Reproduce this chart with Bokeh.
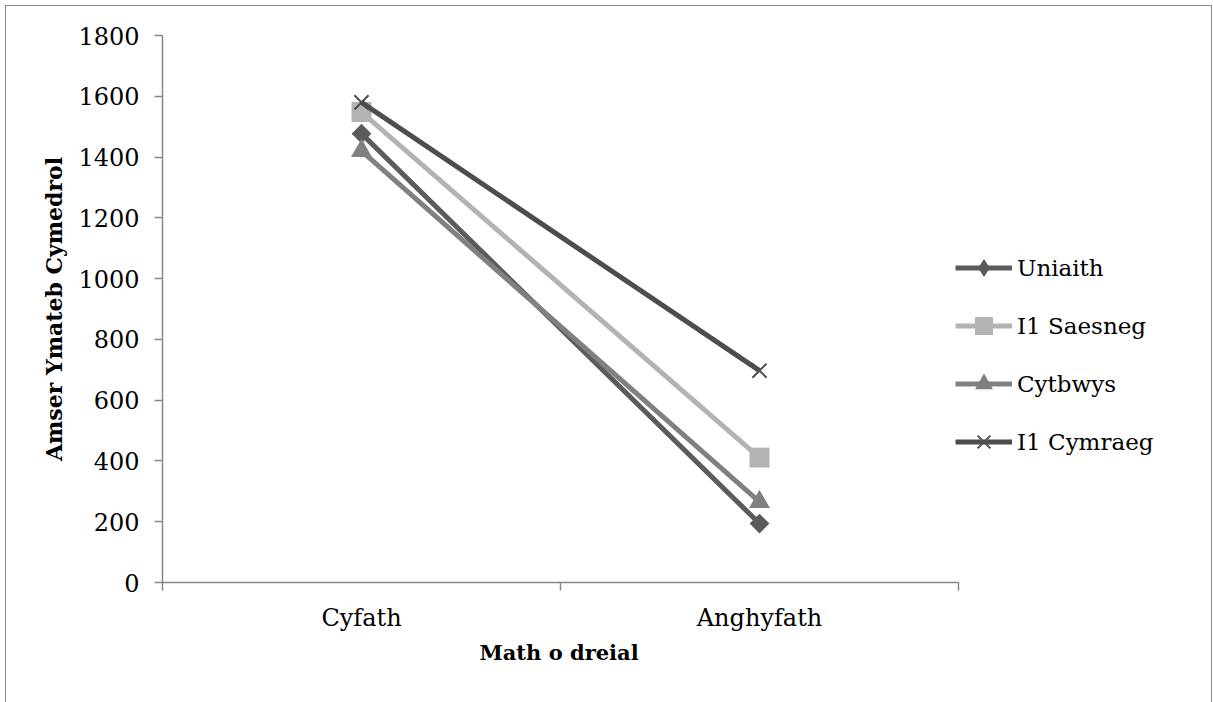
import numpy as np
from bokeh.plotting import figure
from bokeh.models import (Range1d, FixedTicker, Legend, LegendItem, InlineStyleSheet, Title)
from bokeh.embed import file_html
from bokeh.resources import INLINE

categories = ["Cyfath", "Anghyfath"]
series_names = ["Uniaith", "I1 Saesneg", "Cytbwys", "I1 Cymraeg"]
uniaith = [1477, 194]
i1_saesneg = [1548, 411]
cytbwys = [1420, 265]
i1_cymraeg = [1580, 697]
y_ticks = [0, 200, 400, 600, 800, 1000, 1200, 1400, 1600, 1800]

SERIF = "DejaVu Serif"
x_pos = [i + 0.5 for i in range(len(categories))]

# layout (pixels)
W, H = 1213, 702
LEFT, TOP, BOTTOM_PAD, RIGHT_PAD = 162, 35, 120, 8
AXIS_RIGHT = 958   # where the category axis ends
frame_right = W - RIGHT_PAD
n = len(categories)
x_end = n * (frame_right - LEFT) / (AXIS_RIGHT - LEFT)

css = InlineStyleSheet(css="""
:host { position: relative; }
:host::after {
  content: ""; position: absolute; left: 5px; top: 5px; right: 1px; bottom: -20px;
  border: 1.5px solid #8c8c8c; border-bottom: none; pointer-events: none; z-index: 10;
}
""")

p = figure(width=W, height=H, output_backend="svg", toolbar_location=None,
           x_range=Range1d(0, x_end), y_range=Range1d(0, 1800),
           stylesheets=[css])
p.min_border_left = LEFT
p.min_border_right = RIGHT_PAD
p.min_border_top = TOP
p.min_border_bottom = BOTTOM_PAD
p.outline_line_color = None
p.grid.visible = False
p.background_fill_color = "white"
p.border_fill_color = "white"

axis_col = "#888888"
for ax in (p.xaxis[0], p.yaxis[0]):
    ax.axis_line_color = axis_col
    ax.axis_line_width = 1.5
    ax.major_tick_line_color = axis_col
    ax.major_tick_line_width = 1.5
    ax.minor_tick_line_color = axis_col
    ax.minor_tick_line_width = 1.5
    ax.major_label_text_font = SERIF
    ax.major_label_text_font_size = "24px"
    ax.major_label_text_color = "black"
    ax.axis_label_text_font = SERIF
    ax.axis_label_text_font_style = "bold"
    ax.axis_label_text_color = "black"

# y axis
p.yaxis.ticker = FixedTicker(ticks=y_ticks)
p.yaxis.major_tick_out = 8
p.yaxis.major_tick_in = 0
p.yaxis.minor_tick_out = 0
p.yaxis.minor_tick_in = 0
p.yaxis.major_label_standoff = 15
p.yaxis.axis_label = "Amser Ymateb Cymedrol"
p.yaxis.axis_label_text_font_size = "22px"
p.yaxis.axis_label_standoff = 8

# x axis: labels at category centres, ticks at category boundaries
bounds = list(range(n + 1))
p.xaxis.ticker = FixedTicker(ticks=x_pos, minor_ticks=bounds)
p.xaxis.major_label_overrides = {x: c for x, c in zip(x_pos, categories)}
p.xaxis.bounds = (0, n)
p.xaxis.major_tick_out = 0
p.xaxis.major_tick_in = 0
p.xaxis.minor_tick_out = 8
p.xaxis.minor_tick_in = 0
p.xaxis.major_label_standoff = 13

xtitle = Title(text="Math o dreial", align="left", offset=317,
               text_font=SERIF, text_font_style="bold", text_font_size="21px",
               text_color="black", standoff=7)
p.add_layout(xtitle, "below")

lw = 5
items = []
specs = [
    (uniaith, "Uniaith", "#5b5b5b", "diamond"),
    (i1_saesneg, "I1 Saesneg", "#b3b3b3", "square"),
    (cytbwys, "Cytbwys", "#808080", "triangle"),
    (i1_cymraeg, "I1 Cymraeg", "#4d4d4d", "x"),
]
for vals, name, col, marker in specs:
    l = p.line(x_pos, vals, line_color=col, line_width=lw)
    if marker == "x":
        s = p.scatter(x_pos, vals, marker="x", size=20, line_color=col, line_width=2)
    elif marker == "diamond":
        # legend-shaped diamond, covered by a rotated square on the chart
        s = p.scatter(x_pos, vals, marker="diamond", size=18, fill_color=col,
                      line_color=col, line_width=0)
        p.scatter(x_pos, vals, marker="square", size=14, fill_color=col,
                  line_color=col, line_width=0, angle=np.deg2rad(45))
    elif marker == "square":
        s = p.scatter(x_pos, vals, marker="square", size=20, fill_color=col,
                      line_color=col, line_width=0)
    else:
        s = p.scatter(x_pos, vals, marker="triangle", size=21, fill_color=col,
                      line_color=col, line_width=0)
    items.append(LegendItem(label=name, renderers=[l, s]))

legend = Legend(items=items, location=(793, 118))
legend.padding = 0
legend.margin = 0
legend.border_line_color = None
legend.background_fill_alpha = 0
legend.glyph_width = 57
legend.glyph_height = 45
legend.label_height = 20
legend.spacing = 13
legend.label_standoff = 5
legend.label_text_font = SERIF
legend.label_text_font_size = "23px"
legend.label_text_color = "black"
p.add_layout(legend, "center")

open("out.html", "w").write(file_html(p, INLINE))
